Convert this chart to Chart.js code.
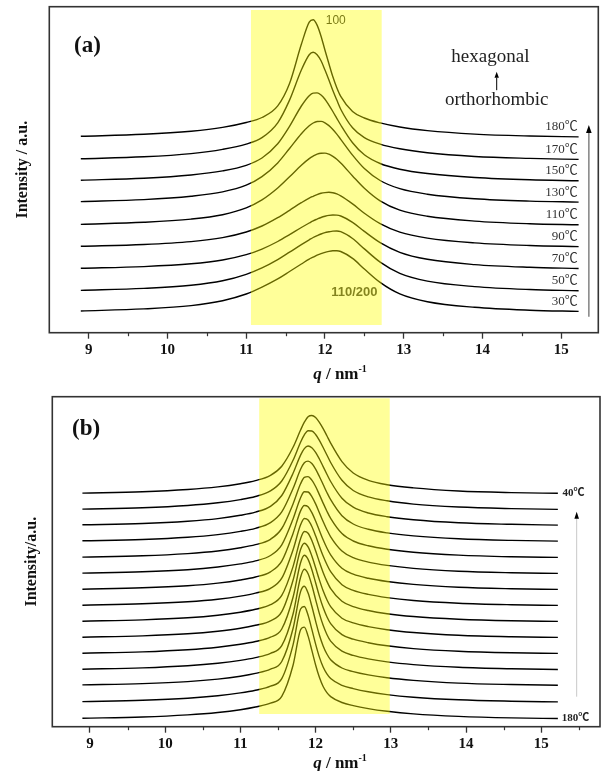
<!DOCTYPE html>
<html><head><meta charset="utf-8">
<script src="https://cdn.jsdelivr.net/npm/chart.js@4"></script>
<style>
html,body{margin:0;padding:0;background:#fff;width:603px;height:771px;overflow:hidden}
#ca{position:absolute;left:0;top:0}
#cb{position:absolute;left:0;top:385px}
</style></head><body>
<canvas id="ca" width="603" height="385"></canvas>
<canvas id="cb" width="603" height="386"></canvas>
<script>
// scattering vector grid (nm^-1)
const Q = [8.9, 9.7, 10.3, 10.7, 11.0, 11.2, 11.4, 11.55, 11.7, 11.8, 11.85, 11.9, 11.95, 12.0, 12.05, 12.1, 12.15, 12.2, 12.35, 12.5, 12.7, 12.95, 13.3, 13.9, 14.6, 15.22];
const majorTicks = [9, 10, 11, 12, 13, 14, 15];
const minorTicks = [9.5, 10.5, 11.5, 12.5, 13.5, 14.5, 15.5];

// ---------- panel (a): heating, 30 -> 180 C ----------
const tempsA = ['30℃', '50℃', '70℃', '90℃', '110℃', '130℃', '150℃', '170℃', '180℃'];
const offsetsA = [21, 41.7, 64, 86, 107.7, 130.4, 152, 173.4, 196];
const a30  = [0.7, 2.8, 6.1, 11.0, 17.7, 24.6, 32.8, 40.2, 47.7, 52.6, 54.5, 56.6, 58.1, 59.4, 60.3, 60.9, 61.0, 60.2, 53.3, 42.7, 29.3, 17.8, 10.0, 4.4, 1.5, 0.3];
const a50  = [0.6, 2.6, 5.7, 10.2, 16.7, 23.1, 31.4, 38.8, 46.4, 51.2, 53.5, 55.3, 57.0, 58.4, 59.2, 59.9, 60.0, 59.3, 52.5, 42.1, 28.9, 17.7, 9.9, 4.4, 1.5, 0.3];
const a70  = [0.4, 2.1, 4.9, 8.7, 14.0, 19.6, 27.2, 34.0, 41.2, 45.7, 47.9, 49.6, 51.2, 52.4, 53.3, 53.7, 53.6, 52.7, 46.4, 37.3, 26.1, 16.4, 9.4, 4.1, 1.4, 0.2];
const a90  = [0.4, 2.2, 5.1, 9.1, 14.7, 20.7, 29.0, 36.4, 44.0, 48.6, 50.4, 52.1, 53.4, 54.1, 54.4, 54.0, 52.8, 50.8, 42.8, 33.5, 23.1, 14.6, 8.6, 3.8, 1.2, 0.1];
const a110 = [0.6, 2.7, 5.9, 10.3, 17.1, 25.1, 37.0, 48.2, 59.8, 66.4, 68.9, 70.9, 71.8, 71.9, 70.8, 68.7, 65.7, 62.0, 49.1, 36.7, 24.1, 14.8, 8.7, 3.9, 1.3, 0.2];
const a130 = [0.7, 2.7, 6.1, 10.4, 17.1, 25.7, 39.4, 53.8, 68.6, 76.5, 79.3, 80.8, 80.9, 79.5, 76.7, 72.8, 68.2, 63.0, 47.2, 33.8, 21.8, 13.6, 8.1, 3.6, 1.2, 0.2];
const a150 = [0.5, 2.5, 5.7, 9.8, 15.4, 22.7, 36.9, 54.3, 74.7, 85.0, 87.6, 87.8, 85.7, 81.5, 75.6, 69.2, 62.4, 55.7, 38.0, 25.9, 17.2, 11.5, 7.2, 3.2, 0.9, 0.0];
const a170 = [0.5, 2.5, 5.7, 9.9, 15.2, 21.7, 36.5, 59.2, 89.3, 104.6, 107.0, 104.6, 98.5, 89.3, 79.3, 68.7, 59.2, 50.1, 31.5, 21.7, 15.2, 10.5, 6.5, 2.8, 0.9, -0.1];
const a180 = [0.4, 2.4, 5.5, 9.3, 14.2, 19.2, 30.8, 53.2, 92.4, 114.6, 116.9, 111.6, 100.5, 86.5, 73.0, 59.9, 49.0, 40.3, 25.2, 18.7, 13.8, 9.7, 6.1, 2.6, 0.7, -0.2];

// ---------- panel (b): cooling, 40 (top) ... 180 C (bottom) ----------
const tempsB = ['40℃', '50℃', '60℃', '70℃', '80℃', '90℃', '100℃', '110℃', '120℃', '130℃', '140℃', '150℃', '160℃', '170℃', '180℃'];
const offsetsB = [233.4, 217.4, 201.7, 185.7, 169.4, 153.4, 137.4, 121.4, 105.4, 89.4, 73.4, 57.4, 41.7, 25, 8.4];
const b40  = [0.2, 1.6, 3.8, 6.4, 9.6, 12.7, 18.0, 27.1, 46.0, 63.3, 71.1, 76.6, 77.8, 75.7, 70.9, 64.6, 57.5, 50.2, 31.7, 20.3, 13.0, 8.6, 5.4, 2.3, 0.7, 0.0];
const b50  = [0.2, 1.6, 3.8, 6.5, 9.7, 12.8, 18.4, 28.3, 49.0, 67.1, 74.5, 78.6, 78.3, 74.8, 69.0, 61.8, 54.3, 46.8, 29.0, 18.8, 12.4, 8.5, 5.2, 2.3, 0.7, -0.1];
const b60  = [0.2, 1.5, 3.8, 6.4, 9.7, 12.9, 18.7, 29.5, 51.7, 69.9, 76.4, 79.0, 77.3, 72.7, 66.0, 58.4, 50.8, 43.5, 26.8, 17.8, 12.0, 8.3, 5.2, 2.2, 0.7, -0.1];
const b70  = [0.2, 1.5, 3.7, 6.4, 9.6, 12.7, 18.4, 29.1, 52.5, 71.7, 78.2, 79.9, 77.4, 71.9, 64.5, 56.5, 48.5, 41.3, 25.3, 17.0, 11.7, 8.1, 5.1, 2.2, 0.6, -0.1];
const b80  = [0.2, 1.5, 3.7, 6.3, 9.5, 12.6, 18.0, 28.8, 53.4, 73.5, 79.9, 80.7, 77.1, 70.8, 62.7, 54.2, 46.1, 38.9, 23.7, 16.3, 11.5, 8.0, 5.0, 2.2, 0.6, -0.1];
const b90  = [0.2, 1.5, 3.6, 6.3, 9.4, 12.4, 17.8, 28.5, 54.3, 75.5, 81.5, 81.3, 76.7, 69.4, 60.6, 51.8, 43.6, 36.5, 22.3, 15.6, 11.2, 7.9, 4.9, 2.1, 0.6, -0.1];
const b100 = [0.1, 1.5, 3.6, 6.2, 9.3, 12.3, 17.5, 28.2, 55.9, 78.4, 83.8, 82.5, 76.7, 68.3, 58.8, 49.5, 41.3, 34.4, 21.0, 15.1, 11.0, 7.8, 4.9, 2.1, 0.6, -0.1];
const b110 = [0.1, 1.5, 3.6, 6.1, 9.2, 12.2, 17.0, 27.1, 55.5, 80.5, 86.8, 85.3, 78.8, 69.5, 59.1, 49.3, 40.8, 33.6, 20.6, 14.9, 10.9, 7.7, 4.8, 2.1, 0.6, -0.1];
const b120 = [0.1, 1.4, 3.5, 6.1, 9.1, 12.0, 16.6, 25.9, 54.7, 82.6, 89.8, 88.1, 80.8, 70.5, 59.3, 48.8, 39.9, 32.6, 20.0, 14.7, 10.8, 7.6, 4.8, 2.1, 0.5, -0.1];
const b130 = [0.1, 1.4, 3.5, 6.1, 9.0, 12.0, 16.5, 25.6, 57.0, 87.8, 94.0, 90.4, 81.3, 69.5, 57.4, 46.5, 37.6, 30.6, 19.1, 14.4, 10.7, 7.6, 4.8, 2.0, 0.5, -0.1];
const b140 = [0.1, 1.4, 3.5, 6.0, 9.0, 11.8, 16.1, 24.3, 56.0, 90.5, 98.0, 93.9, 83.6, 70.5, 57.2, 45.7, 36.6, 29.7, 18.6, 14.1, 10.6, 7.5, 4.7, 2.0, 0.5, -0.1];
const b150 = [0.1, 1.4, 3.5, 6.0, 8.9, 11.7, 16.0, 23.6, 55.3, 92.0, 100.0, 95.5, 84.0, 69.7, 55.7, 44.0, 34.8, 28.1, 18.1, 13.9, 10.4, 7.4, 4.7, 2.0, 0.5, -0.2];
const b160 = [0.1, 1.4, 3.4, 5.9, 8.8, 11.6, 15.8, 23.5, 56.5, 93.4, 98.8, 92.0, 78.7, 63.9, 50.0, 39.1, 31.0, 25.3, 17.0, 13.4, 10.1, 7.2, 4.6, 1.9, 0.5, -0.2];
const b170 = [0.1, 1.4, 3.4, 5.9, 8.8, 11.5, 15.5, 23.1, 56.9, 92.7, 95.2, 86.4, 72.3, 57.6, 44.6, 34.7, 27.8, 23.1, 16.4, 13.1, 9.9, 7.1, 4.5, 1.9, 0.5, -0.2];
const b180 = [0.1, 1.3, 3.4, 5.8, 8.6, 11.3, 15.1, 21.9, 53.0, 88.5, 91.2, 82.2, 67.9, 53.3, 41.0, 31.8, 25.7, 21.7, 15.8, 12.7, 9.7, 7.0, 4.4, 1.9, 0.4, -0.2];

const profilesA = [a30, a50, a70, a90, a110, a130, a150, a170, a180];
const profilesB = [b40, b50, b60, b70, b80, b90, b100, b110, b120, b130, b140, b150, b160, b170, b180];

const SERIF = "'Liberation Serif','Times New Roman','Noto Sans CJK SC',serif";
const SANS = "'Liberation Sans',Arial,sans-serif";

function buildDatasets(temps, offsets, profiles) {
  return temps.map((t, k) => ({
    label: t,
    data: Q.map((x, i) => ({x: x, y: offsets[k] + profiles[k][i]})),
    borderColor: '#000',
    borderWidth: 1.4,
    pointRadius: 0,
    fill: false,
    cubicInterpolationMode: 'monotone'
  }));
}

function drawXTitle(ctx, cx, baseY) {
  const f1 = "italic bold 17px " + SERIF, f2 = "bold 17px " + SERIF, f3 = "bold 10px " + SERIF;
  ctx.font = f1; const w1 = ctx.measureText('q').width;
  ctx.font = f2; const w2 = ctx.measureText(' / nm').width;
  ctx.font = f3; const w3 = ctx.measureText('-1').width;
  let x = cx - (w1 + w2 + w3) / 2;
  ctx.textAlign = 'left'; ctx.textBaseline = 'alphabetic'; ctx.fillStyle = '#111';
  ctx.font = f1; ctx.fillText('q', x, baseY); x += w1;
  ctx.font = f2; ctx.fillText(' / nm', x, baseY); x += w2;
  ctx.font = f3; ctx.fillText('-1', x, baseY - 7);
}

function drawArrow(ctx, x, yBottom, yTip, lineColor, lw, headW, headH) {
  ctx.save();
  ctx.strokeStyle = lineColor; ctx.lineWidth = lw;
  ctx.beginPath(); ctx.moveTo(x, yBottom); ctx.lineTo(x, yTip + headH); ctx.stroke();
  ctx.fillStyle = '#000';
  ctx.beginPath(); ctx.moveTo(x, yTip); ctx.lineTo(x - headW, yTip + headH); ctx.lineTo(x + headW, yTip + headH); ctx.closePath(); ctx.fill();
  ctx.restore();
}

function framePlugin(xmax) {
  return {
    id: 'frame',
    afterDraw(chart) {
      const {ctx, chartArea: ca, scales: {x}} = chart;
      ctx.save();
      // minor ticks (shorter than the major ones)
      ctx.strokeStyle = '#333'; ctx.lineWidth = 1.2;
      minorTicks.filter(v => v < xmax).forEach(v => {
        const px = Math.round(x.getPixelForValue(v)) + 0.5;
        ctx.beginPath(); ctx.moveTo(px, ca.bottom); ctx.lineTo(px, ca.bottom + 3.5); ctx.stroke();
      });
      ctx.lineWidth = 1.6;
      ctx.strokeRect(ca.left, ca.top, ca.right - ca.left, ca.bottom - ca.top);
      ctx.restore();
    }
  };
}

function baseOptions(xmax, ymax, yTitle, yTitlePad, yAxisW, xAxisH, pad) {
  return {
    responsive: false, animation: false, devicePixelRatio: 1,
    layout: {padding: pad},
    plugins: {legend: {display: false}, tooltip: {enabled: false}},
    scales: {
      x: {
        type: 'linear', min: 8.5, max: xmax,
        afterFit: s => { s.height = xAxisH; },
        border: {display: false},
        grid: {display: true, drawOnChartArea: false, drawTicks: true, tickLength: 6, tickColor: '#333', tickWidth: 1.3},
        ticks: {
          stepSize: 1, includeBounds: false, autoSkip: false, maxRotation: 0, padding: 2,
          color: '#111', font: {family: SERIF, size: 15, weight: 'bold'},
          callback: v => majorTicks.includes(v) ? String(v) : ''
        }
      },
      y: {
        type: 'linear', min: 0, max: ymax,
        afterFit: s => { s.width = yAxisW; },
        border: {display: false},
        grid: {display: false},
        ticks: {display: false},
        title: {display: true, text: yTitle, color: '#111', padding: {top: yTitlePad, bottom: 0},
                font: {family: SERIF, size: 16, weight: 'bold'}}
      }
    }
  };
}

// ---------------- chart (a) ----------------
const panelA = {
  id: 'panelA',
  afterDatasetsDraw(chart) {
    const {ctx, scales: {x, y}} = chart;
    ctx.save();
    // reflection labels (drawn under the translucent band)
    ctx.fillStyle = '#222'; ctx.textAlign = 'left'; ctx.textBaseline = 'middle';
    ctx.font = "12px " + SANS;
    ctx.fillText('100', x.getPixelForValue(12.01), y.getPixelForValue(312));
    ctx.font = "bold 13px " + SANS; ctx.fillStyle = '#333';
    ctx.fillText('110/200', x.getPixelForValue(12.08), y.getPixelForValue(40.4));
    // highlighted q band
    ctx.fillStyle = 'rgba(255,255,0,0.4)';
    const bx0 = x.getPixelForValue(11.06), bx1 = x.getPixelForValue(12.72);
    const by0 = y.getPixelForValue(322.7), by1 = y.getPixelForValue(7.7);
    ctx.fillRect(bx0, by0, bx1 - bx0, by1 - by0);
    // temperature labels
    ctx.fillStyle = '#333'; ctx.textAlign = 'right'; ctx.textBaseline = 'middle';
    ctx.font = "13px " + SERIF;
    tempsA.forEach((t, k) => ctx.fillText(t, x.getPixelForValue(15.21), y.getPixelForValue(offsetsA[k] + 10)));
    // heating arrow
    const ax = x.getPixelForValue(15.35);
    drawArrow(ctx, ax, y.getPixelForValue(16), y.getPixelForValue(207.7), '#8a8a8a', 1.6, 2.8, 8);
    // phase transition note
    ctx.fillStyle = '#222'; ctx.textAlign = 'center'; ctx.textBaseline = 'middle';
    ctx.font = "19px " + SERIF;
    ctx.fillText('hexagonal', x.getPixelForValue(14.10), y.getPixelForValue(275.7));
    ctx.fillText('orthorhombic', x.getPixelForValue(14.18), y.getPixelForValue(232.7));
    drawArrow(ctx, x.getPixelForValue(14.18), y.getPixelForValue(242.5), y.getPixelForValue(261), '#000', 1, 2.2, 6);
    // panel letter
    ctx.textAlign = 'left'; ctx.textBaseline = 'alphabetic'; ctx.fillStyle = '#111';
    ctx.font = "bold 23px " + SERIF;
    ctx.fillText('(a)', 74, 52);
    drawXTitle(ctx, 340, 379);
    ctx.restore();
  }
};

new Chart(document.getElementById('ca'), {
  type: 'line',
  data: {datasets: buildDatasets(tempsA, offsetsA, profilesA)},
  options: baseOptions(15.47, 326, 'Intensity / a.u.', 13.4, 49.3, 52.3, {top: 6.7, right: 4.7, left: 0, bottom: 0}),
  plugins: [panelA, framePlugin(15.47)]
});

// ---------------- chart (b) ----------------
const panelB = {
  id: 'panelB',
  afterDatasetsDraw(chart) {
    const {ctx, scales: {x, y}} = chart;
    ctx.save();
    ctx.fillStyle = 'rgba(255,255,0,0.4)';
    const bx0 = x.getPixelForValue(11.25), bx1 = x.getPixelForValue(12.985);
    const by0 = y.getPixelForValue(328.4), by1 = y.getPixelForValue(12.7);
    ctx.fillRect(bx0, by0, bx1 - bx0, by1 - by0);
    // end labels
    ctx.fillStyle = '#222'; ctx.textAlign = 'left'; ctx.textBaseline = 'middle';
    ctx.font = "bold 11px " + SERIF;
    const last = tempsB.length - 1;
    ctx.fillText(tempsB[0], x.getPixelForValue(15.28), y.getPixelForValue(offsetsB[0]));
    ctx.fillText(tempsB[last], x.getPixelForValue(15.27), y.getPixelForValue(offsetsB[last]));
    // cooling arrow
    drawArrow(ctx, x.getPixelForValue(15.47), y.getPixelForValue(30), y.getPixelForValue(215), '#c8c8c8', 1, 2.3, 7);
    // panel letter
    ctx.textAlign = 'left'; ctx.textBaseline = 'alphabetic'; ctx.fillStyle = '#111';
    ctx.font = "bold 23px " + SERIF;
    ctx.fillText('(b)', 72, 50);
    drawXTitle(ctx, 340, 383);
    ctx.restore();
  }
};

new Chart(document.getElementById('cb'), {
  type: 'line',
  data: {datasets: buildDatasets(tempsB, offsetsB, profilesB)},
  options: baseOptions(15.78, 330, 'Intensity/a.u.', 22.4, 52.3, 44.3, {top: 11.7, right: 3, left: 0, bottom: 0}),
  plugins: [panelB, framePlugin(15.78)]
});
</script>
</body></html>
